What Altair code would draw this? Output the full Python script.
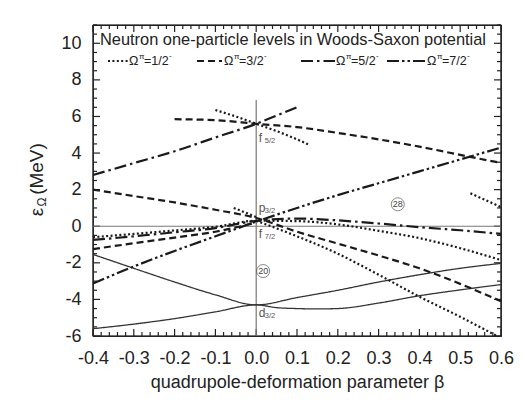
import altair as alt
import pandas as pd
import numpy as np

W, H = 408, 311
X0, X1 = -0.4, 0.6
Y0, Y1 = -6.0, 11.0

# ---------------- data ----------------
# solid: d3/2 levels
beta_d1 = [-0.4, -0.3, -0.2, -0.1, 0.0, 0.1, 0.2, 0.3, 0.4, 0.5, 0.6]
e_d1 = [-1.54, -2.3, -3.05, -3.75, -4.3, -3.9, -3.5, -3.05, -2.65, -2.3, -2.03]
beta_d2 = [-0.4, -0.3, -0.2, -0.1, 0.0, 0.05, 0.1, 0.15, 0.2, 0.3, 0.4, 0.5, 0.6]
e_d2 = [-5.6, -5.35, -5.05, -4.68, -4.3, -4.45, -4.5, -4.52, -4.5, -4.2, -3.8, -3.48, -3.19]

# f5/2 family
beta_f5_52 = [-0.4, -0.3, -0.2, -0.1, 0.0, 0.05, 0.1]
e_f5_52 = [2.8, 3.45, 4.1, 4.85, 5.6, 6.05, 6.5]
beta_f5_32 = [-0.2, -0.1, 0.0, 0.1, 0.2, 0.3, 0.4, 0.5, 0.6]
e_f5_32 = [5.85, 5.8, 5.6, 5.42, 5.1, 4.75, 4.35, 3.9, 3.46]
beta_f5_12 = [-0.1, -0.05, 0.0, 0.05, 0.1, 0.13]
e_f5_12 = [6.35, 6.0, 5.6, 5.2, 4.75, 4.45]

# levels near zero (p3/2, f7/2)
beta_dash_a = [-0.4, -0.3, -0.2, -0.1, 0.0, 0.1, 0.2, 0.3, 0.4, 0.5, 0.6]
e_dash_a = [2.0, 1.65, 1.3, 0.9, 0.45, -0.3, -0.95, -1.6, -2.3, -3.15, -4.1]
beta_dash_b = [-0.4, -0.3, -0.2, -0.1, 0.0]
e_dash_b = [-1.25, -0.93, -0.62, -0.3, 0.2]

beta_dot_a = [-0.4, -0.3, -0.2, -0.1, 0.0, 0.1, 0.2, 0.3, 0.4, 0.5, 0.6]
e_dot_a = [-0.6, -0.42, -0.23, -0.03, 0.3, 0.28, 0.1, -0.25, -0.65, -1.2, -1.85]
beta_dot_b = [0.0, 0.1, 0.2, 0.3, 0.4, 0.5, 0.59]
e_dot_b = [0.3, -0.55, -1.5, -2.65, -3.85, -4.95, -6.0]
beta_dot_c = [-0.055, -0.03, 0.0]
e_dot_c = [1.0, 0.78, 0.5]
beta_dot_d = [0.525, 0.56, 0.6]
e_dot_d = [1.8, 1.45, 1.05]

beta_dd = [-0.4, -0.3, -0.2, -0.1, 0.0, 0.1, 0.2, 0.3, 0.4, 0.5, 0.6]
e_dd = [-0.75, -0.55, -0.33, -0.1, 0.3, 0.42, 0.32, 0.15, -0.05, -0.22, -0.42]

beta_ddd = [-0.4, -0.3, -0.2, -0.1, 0.0, 0.1, 0.2, 0.3, 0.4, 0.5, 0.6]
e_ddd = [-3.13, -2.2, -1.35, -0.55, 0.25, 1.0, 1.7, 2.35, 3.0, 3.65, 4.3]

# orbital labels and magic numbers
orb_beta = [0.004, 0.004, 0.004, 0.004]
orb_e = [4.85, 1.0, -0.45, -4.75]
orb_letter = ["f", "p", "f", "d"]
orb_sub = ["5/2", "3/2", "7/2", "3/2"]
magic_beta = [0.347, 0.017]
magic_e = [1.2, -2.45]
magic_text = ["28", "20"]

x_major = [-0.4, -0.3, -0.2, -0.1, 0.0, 0.1, 0.2, 0.3, 0.4, 0.5, 0.6]
y_major = [-6, -4, -2, 0, 2, 4, 6, 8, 10]

legend_labels = ["=1/2", "=3/2", "=5/2", "=7/2"]

# ---------------- build tables ----------------
series = [
    ("d1", "solid", beta_d1, e_d1),
    ("d2", "solid", beta_d2, e_d2),
    ("f5_52", "dashdot", beta_f5_52, e_f5_52),
    ("f5_32", "dash", beta_f5_32, e_f5_32),
    ("f5_12", "dot", beta_f5_12, e_f5_12),
    ("dash_a", "dash", beta_dash_a, e_dash_a),
    ("dash_b", "dash", beta_dash_b, e_dash_b),
    ("dot_a", "dot", beta_dot_a, e_dot_a),
    ("dot_b", "dot", beta_dot_b, e_dot_b),
    ("dot_c", "dot", beta_dot_c, e_dot_c),
    ("dot_d", "dot", beta_dot_d, e_dot_d),
    ("dd", "dashdot", beta_dd, e_dd),
    ("ddd", "dashdotdot", beta_ddd, e_ddd),
]
rows = []
for name, style, bs, es in series:
    for b, e in zip(bs, es):
        rows.append({"line": name, "style": style, "beta": b, "E": e})
df = pd.DataFrame(rows)

dash_map = {
    "solid": [1, 0],
    "dot": [2, 2.4],
    "dash": [7, 4],
    "dashdot": [12, 4, 2.5, 4],
    "dashdotdot": [12, 3, 2.5, 3, 2.5, 3],
}

xs = alt.Scale(domain=[X0, X1], nice=False, zero=False)
ys = alt.Scale(domain=[Y0, Y1], nice=False, zero=False)

X_AXIS = alt.Axis(values=x_major, ticks=False, domain=False, grid=False,
                  labelOverlap=False, labelFlush=False,
                  labelExpr="replace(format(datum.value, '.1f'), '\u2212', '-')",
                  labelFontSize=18, labelColor="#222", labelPadding=13,
                  labelFont="Liberation Sans",
                  title="quadrupole-deformation parameter \u03b2",
                  titleFont="Liberation Sans", titleFontSize=18,
                  titleFontWeight="normal", titleColor="#222", titlePadding=6)
Y_AXIS = alt.Axis(values=y_major, ticks=False, domain=False, grid=False,
                  labelOverlap=False, labelFlush=False,
                  labelExpr="replace(format(datum.value, 'd'), '\u2212', '-')",
                  labelFontSize=18, labelColor="#222", labelPadding=12,
                  labelFont="Liberation Sans", title=None)


def X(field):
    return alt.X(field, type="quantitative", scale=xs, axis=X_AXIS)


def Y(field):
    return alt.Y(field, type="quantitative", scale=ys, axis=Y_AXIS)


LINE_COLOR = "#1a1a1a"
layers = []

# frame and inward ticks as short line segments (same kind of mark as the levels)
ppx = W / (X1 - X0)
ppy = H / (Y1 - Y0)
seg_rows = []
seg_id = 0


def add_seg(b1, e1, b2, e2):
    global seg_id
    seg_id += 1
    seg_rows.append({"seg": f"s{seg_id}", "beta": b1, "E": e1, "k": 0})
    seg_rows.append({"seg": f"s{seg_id}", "beta": b2, "E": e2, "k": 1})


add_seg(X0, Y0, X1, Y0)
add_seg(X0, Y1, X1, Y1)
add_seg(X0, Y0, X0, Y1)
add_seg(X1, Y0, X1, Y1)
x_minor = [round(float(v), 2) for v in np.arange(-0.4, 0.6001, 0.02)]
y_minor = [round(float(v), 2) for v in np.arange(-6, 11.001, 0.5)]
for v in x_minor:
    L = 7 if abs(round(v * 10) - v * 10) < 1e-6 else 4
    add_seg(v, Y0, v, Y0 + L / ppy)
    add_seg(v, Y1, v, Y1 - L / ppy)
for v in y_minor:
    L = 7 if v % 2 == 0 else 4
    add_seg(X0, v, X0 + L / ppx, v)
    add_seg(X1, v, X1 - L / ppx, v)
seg_df = pd.DataFrame(seg_rows)
layers.append(alt.Chart(seg_df).mark_line(color="#222", strokeWidth=1.2,
                                          interpolate="linear").encode(
    x=X("beta"), y=Y("E"), detail="seg:N", order="k:Q"))

# reference lines (beta = 0, E = 0)
ref_rows = [
    {"seg": "h0", "beta": X0, "E": 0.0, "k": 0}, {"seg": "h0", "beta": X1, "E": 0.0, "k": 1},
    {"seg": "v0", "beta": 0.0, "E": -6.0, "k": 0}, {"seg": "v0", "beta": 0.0, "E": 6.9, "k": 1},
]
layers.append(alt.Chart(pd.DataFrame(ref_rows)).mark_line(color="#777", strokeWidth=1.2,
                                                          interpolate="linear").encode(
    x=X("beta"), y=Y("E"), detail="seg:N", order="k:Q"))

# level lines
for style, dash in dash_map.items():
    sub = df[df["style"] == style]
    sw = 1.3 if style == "solid" else 2.2
    col = "#333" if style == "solid" else LINE_COLOR
    layers.append(
        alt.Chart(sub).mark_line(strokeDash=dash, strokeWidth=sw, color=col,
                                 interpolate="monotone").encode(
            x=X("beta"), y=Y("E"), detail="line:N"))

# orbital labels
orb_df = pd.DataFrame({"beta": orb_beta, "E": orb_e, "letter": orb_letter, "sub": orb_sub})
layers.append(alt.Chart(orb_df).mark_text(align="left", baseline="middle", fontSize=12,
                                          color="#555", font="Liberation Sans", dx=1).encode(
    x=X("beta"), y=Y("E"), text="letter:N"))
layers.append(alt.Chart(orb_df).mark_text(align="left", baseline="middle", fontSize=7.5,
                                          color="#555", font="Liberation Sans", dx=7, dy=3).encode(
    x=X("beta"), y=Y("E"), text="sub:N"))

# circled magic numbers
mg_df = pd.DataFrame({"beta": magic_beta, "E": magic_e, "t": magic_text})
layers.append(alt.Chart(mg_df).mark_point(shape="circle", size=170, filled=False,
                                          color="#555", strokeWidth=1).encode(
    x=X("beta"), y=Y("E")))
layers.append(alt.Chart(mg_df).mark_text(fontSize=9, color="#444", font="Liberation Sans").encode(
    x=X("beta"), y=Y("E"), text="t:N"))

# title inside plot
title_df = pd.DataFrame({"t": ["Neutron one-particle levels in Woods-Saxon potential"]})
layers.append(alt.Chart(title_df).mark_text(fontSize=16.4, color="#222", font="Liberation Sans",
                                            align="center", baseline="middle").encode(
    x=alt.value(200), y=alt.value(15), text="t:N"))

# legend (manual)
leg_styles = ["dot", "dash", "dashdot", "dashdotdot"]
leg_line_x = [(15, 35), (104, 129), (208, 242), (294, 332)]
leg_text_x = [36, 131, 243, 334]
LY = 36
for i, st in enumerate(leg_styles):
    x0, x1 = leg_line_x[i]
    ldf = pd.DataFrame({"k": [st]})
    layers.append(alt.Chart(ldf).mark_rule(strokeDash=dash_map[st], strokeWidth=2,
                                           color=LINE_COLOR).encode(
        x=alt.value(x0), x2=alt.value(x1), y=alt.value(LY)))
    tx0 = leg_text_x[i]
    tdf = pd.DataFrame({"a": ["\u03a9"], "p": ["\u03c0"], "v": [legend_labels[i]], "m": ["-"]})
    common = dict(align="left", baseline="middle", color="#222", font="Liberation Sans")
    layers.append(alt.Chart(tdf).mark_text(fontSize=12.5, **common).encode(
        x=alt.value(tx0), y=alt.value(LY), text="a:N"))
    layers.append(alt.Chart(tdf).mark_text(fontSize=8, **common).encode(
        x=alt.value(tx0 + 10), y=alt.value(LY - 4), text="p:N"))
    layers.append(alt.Chart(tdf).mark_text(fontSize=12.5, **common).encode(
        x=alt.value(tx0 + 15), y=alt.value(LY), text="v:N"))
    layers.append(alt.Chart(tdf).mark_text(fontSize=8, **common).encode(
        x=alt.value(tx0 + 40), y=alt.value(LY - 5), text="m:N"))

# y-axis title: epsilon_Omega (MeV), rotated
yt_df = pd.DataFrame({"a": ["\u03b5"], "o": ["\u03a9"], "u": ["(MeV)"]})
ycommon = dict(angle=270, align="center", baseline="middle", color="#222", font="Liberation Sans")
layers.append(alt.Chart(yt_df).mark_text(fontSize=19, **ycommon).encode(
    x=alt.value(-56), y=alt.value(187), text="a:N"))
layers.append(alt.Chart(yt_df).mark_text(fontSize=12, **ycommon).encode(
    x=alt.value(-51), y=alt.value(177), text="o:N"))
layers.append(alt.Chart(yt_df).mark_text(fontSize=19, **ycommon).encode(
    x=alt.value(-56), y=alt.value(144), text="u:N"))

chart = alt.layer(*layers).properties(
    width=W, height=H,
    autosize=alt.AutoSizeParams(type="none"),
    padding={"left": 85, "top": 17, "right": 13, "bottom": 65},
    background="white",
).configure_view(stroke="#222", strokeWidth=1.2)

chart.save("out.html", embed_options={"renderer": "svg", "actions": False})
